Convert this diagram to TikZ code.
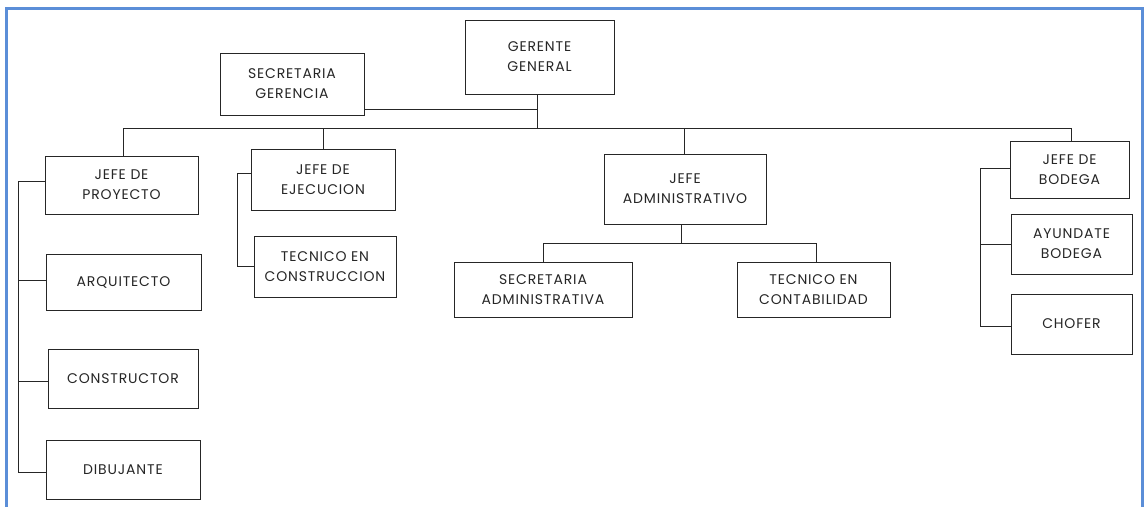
\documentclass[tikz,border=0pt]{standalone}
\usepackage{fontspec}
\setmainfont{Poppins}[LetterSpace=6]
\begin{document}
\begin{tikzpicture}[x=1pt,y=-1pt,
  box/.style={draw=black!85,line width=0.9pt,fill=white,inner sep=0pt,align=center,
    font=\fontsize{14}{20}\selectfont, text=black!85},
  link/.style={draw=black!85,line width=0.9pt}]
\useasboundingbox (0,0) rectangle (1145,506);
\definecolor{framecol}{HTML}{5B8ED8}
\draw[line width=3pt,draw=framecol] (6.5,520) -- (6.5,8.5) -- (1142.5,8.5) -- (1142.5,520);
% boxes
\newcommand\bx[6]{\node[box,minimum width={#4-#2},minimum height={#5-#3}] (#1) at ({(#2+#4)/2},{(#3+#5)/2}) {#6};}
\bx{GG}{465}{20}{614}{94}{GERENTE\\GENERAL}
\bx{SG}{220}{53}{364}{115}{SECRETARIA\\GERENCIA}
\bx{JP}{45}{156}{198}{214}{JEFE DE\\PROYECTO}
\bx{ARQ}{46}{254}{201}{310}{ARQUITECTO}
\bx{CONS}{48}{349}{198}{408}{CONSTRUCTOR}
\bx{DIB}{46}{440}{200}{499}{DIBUJANTE}
\bx{JE}{251}{149}{395}{210}{JEFE DE\\EJECUCION}
\bx{TC}{254}{236}{396}{297}{TECNICO EN\\CONSTRUCCION}
\bx{JA}{604}{154}{766}{224}{JEFE\\ADMINISTRATIVO}
\bx{SA}{454}{262}{632}{317}{SECRETARIA\\ADMINISTRATIVA}
\bx{TCO}{737}{262}{890}{317}{TECNICO EN\\CONTABILIDAD}
\bx{JB}{1010}{141}{1129}{198}{JEFE DE\\BODEGA}
\bx{AB}{1011}{214}{1132}{274}{AYUNDATE\\BODEGA}
\bx{CH}{1011}{294}{1132}{354}{CHOFER}
% coordinates
\coordinate (busL) at (123,128);
\coordinate (busR) at (1071,128);
\coordinate (gg) at (537,128);
\coordinate (jpx) at (18,181);
\coordinate (jex) at (237,173);
\coordinate (jbx) at (980,168);
\coordinate (jab) at (681,243);
\coordinate (sbL) at (543,243);
\coordinate (sbR) at (816,243);
% connectors
\draw[link] (GG.south -| gg) -- (gg);
\draw[link] (SG.east |- 0,109) -- (gg |- 0,109);
\draw[link] (busL) -- (busR);
\draw[link] (busL) -- (busL |- JP.north);
\draw[link] (323,128) -- (323,0 |- JE.north);
\draw[link] (684,128) -- (684,0 |- JA.north);
\draw[link] (busR) -- (busR |- JB.north);
\draw[link] (JP.west |- jpx) -- (jpx) |- (ARQ.west |- 0,280);
\draw[link] (jpx) |- (CONS.west |- 0,381);
\draw[link] (jpx) |- (DIB.west |- 0,472);
\draw[link] (JE.west |- jex) -- (jex) |- (TC.west |- 0,266);
\draw[link] (JA.south -| jab) -- (jab);
\draw[link] (sbL |- SA.north) -- (sbL) -- (sbR) -- (sbR |- TCO.north);
\draw[link] (JB.west |- jbx) -- (jbx) |- (AB.west |- 0,244);
\draw[link] (jbx) |- (CH.west |- 0,326);
\end{tikzpicture}
\end{document}
